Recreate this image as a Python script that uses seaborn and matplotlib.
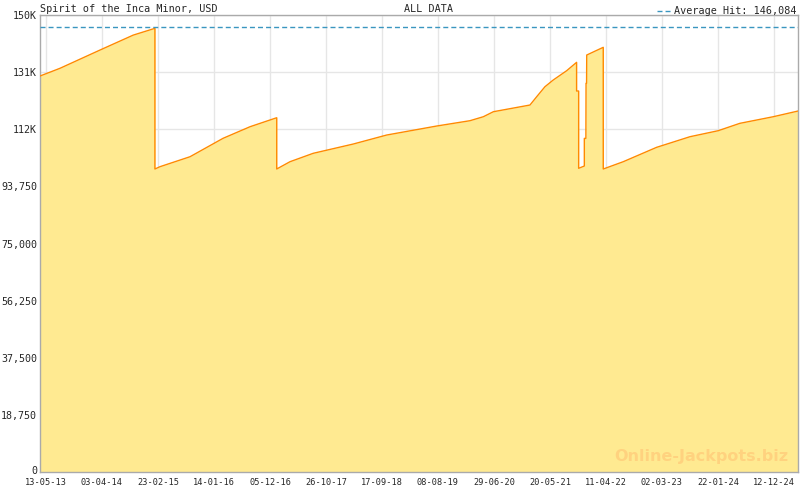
import matplotlib
matplotlib.use("Agg")
import numpy as np
import pandas as pd
import matplotlib.pyplot as plt
import matplotlib.dates as mdates
import matplotlib.ticker as mticker
import matplotlib.transforms as mtransforms
import seaborn as sns

# jackpot history (USD)
dates = [
    "2013-04-08", "2013-08-02", "2014-03-23", "2014-10-02", "2015-02-05",
    "2015-02-05", "2015-03-06", "2015-08-28", "2016-03-07", "2016-08-11", "2017-01-13",
    "2017-01-13", "2017-03-31", "2017-08-13", "2018-04-03", "2018-10-14", "2019-08-01",
    "2020-02-10", "2020-04-28", "2020-06-25", "2021-01-24", "2021-03-04", "2021-04-21",
    "2021-06-08", "2021-08-25", "2021-10-22",
    "2021-10-22", "2021-11-03",
    "2021-11-03", "2021-12-06",
    "2021-12-06", "2021-12-15",
    "2021-12-16", "2021-12-19",
    "2021-12-20", "2022-03-26",
    "2022-03-26", "2022-07-20", "2023-01-30", "2023-08-12", "2024-01-23",
    "2024-05-28", "2024-12-08", "2025-05-01",
]
values = [
    129970, 132500, 138500, 143400, 145620,
    99450, 100200, 103480, 109520, 113330, 116280,
    99450, 101840, 104600, 107650, 110600, 113560,
    115300, 116610, 118250, 120450, 123170, 126450,
    128650, 131700, 134460,
    125050, 125050,
    99680, 100430,
    109500, 109500,
    127570, 127570,
    136860, 139390,
    99450, 101840, 106560, 110050, 112020,
    114440, 116610, 118480,
]
average_hit = 146084
y_ticks = [0, 18750, 37500, 56250, 75000, 93750, 112500, 131250, 150000]
y_labels = ["0", "18,750", "37,500", "56,250", "75,000", "93,750", "112K", "131K", "150K"]
first_tick = "2013-05-13"
tick_step_days = 325.46
n_ticks = 14
x_start, x_end = "2013-04-08", "2025-05-01"

df = pd.DataFrame({"date": pd.to_datetime(dates), "value": values})

sns.set_style("white")
plt.rcParams["font.family"] = ["DejaVu Sans Mono", "DejaVu Sans"]

fig = plt.figure(figsize=(8, 4.9), dpi=100)
ax = fig.add_axes([40 / 800, 1 - 472 / 490, 758 / 800, 457 / 490])

ax.fill_between(df["date"], df["value"], 0, color="#FFEA91", linewidth=0, zorder=2)
sns.lineplot(data=df, x="date", y="value", estimator=None, sort=False,
             color="#FF8A00", linewidth=1.0, ax=ax, zorder=3)
ax.axhline(average_hit, color="#3A96C0", linewidth=1, dashes=(3.6, 2.2), zorder=4,
           label=f"Average Hit: {average_hit:,}")

ax.set_xlim(pd.Timestamp(x_start), pd.Timestamp(x_end))
ax.set_ylim(0, 150000)

# ticks fall on whole days, ~325.5 days apart
t0 = mdates.date2num(pd.Timestamp(first_tick))
major = [t0 + np.round(k * tick_step_days) for k in range(n_ticks)]
minor = [t0 + k * tick_step_days / 7 for k in range(-1, n_ticks * 7 + 1)]
ax.xaxis.set_major_locator(mticker.FixedLocator(major))
ax.xaxis.set_minor_locator(mticker.FixedLocator(minor))
ax.xaxis.set_major_formatter(mdates.DateFormatter("%d-%m-%y"))
ax.set_yticks(y_ticks)
ax.set_yticklabels(y_labels)

ax.grid(True, which="major", color="#E6E6E6", linewidth=1)
ax.set_axisbelow(True)
ax.set_xlabel("")
ax.set_ylabel("")

for sp in ax.spines.values():
    sp.set_color("#AAAAAA")
    sp.set_linewidth(1.0)

ax.tick_params(axis="x", which="major", direction="in", length=4.5, width=1,
               color="#AAAAAA", labelsize=6.2, pad=4)
ax.tick_params(axis="x", which="minor", direction="in", length=2.5, width=1,
               color="#AAAAAA")
ax.tick_params(axis="y", which="major", direction="in", length=4, width=1,
               color="#AAAAAA", labelsize=7.2, pad=2)
# the "0" label sits a couple of pixels above the axis line
zero_lbl = ax.get_yticklabels()[0]
zero_lbl.set_transform(zero_lbl.get_transform()
                       + mtransforms.ScaledTranslation(0, 2.5 / 100, fig.dpi_scale_trans))

fig.text(40 / 800, 1 - 12 / 490, "Spirit of the Inca Minor, USD", fontsize=7.3,
         ha="left", va="baseline")
fig.text(429 / 800, 1 - 12 / 490, "ALL DATA", fontsize=7.3, ha="center", va="baseline")
ax.legend(loc="lower right", bbox_to_anchor=(1.0, 0.995), frameon=False,
          fontsize=7.3, handlelength=1.45, handletextpad=0.3, borderpad=0,
          borderaxespad=0.1)

ax.text(0.987, 0.035, "Online-Jackpots.biz", transform=ax.transAxes,
        ha="right", va="center", fontsize=11.5, fontweight="bold",
        family="DejaVu Sans", color="#FFD27F", zorder=5)

fig.savefig("out.png", dpi=100)
